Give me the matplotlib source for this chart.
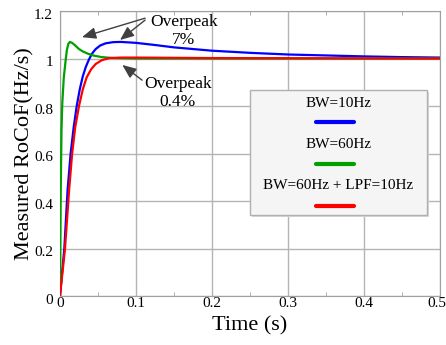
import matplotlib.pyplot as plt
import matplotlib.transforms as mtransforms
from matplotlib.patches import FancyBboxPatch
from matplotlib.lines import Line2D

plt.rcParams["font.family"] = ["Liberation Serif", "DejaVu Serif"]

# values
t_bw10 = [0, 0.0057, 0.010, 0.014, 0.018, 0.022, 0.026, 0.030, 0.034, 0.038,
          0.042, 0.047, 0.053, 0.060, 0.070, 0.080, 0.100, 0.125, 0.150,
          0.200, 0.250, 0.300, 0.350, 0.400, 0.450, 0.500]
y_bw10 = [0, 0.20, 0.446, 0.60, 0.71, 0.80, 0.87, 0.925, 0.965, 0.995,
          1.02, 1.04, 1.055, 1.064, 1.069, 1.07, 1.066, 1.057, 1.047,
          1.033, 1.024, 1.017, 1.013, 1.009, 1.006, 1.004]

t_bw60 = [0, 0.001, 0.002, 0.003, 0.005, 0.0075, 0.009, 0.011, 0.013, 0.016,
          0.020, 0.025, 0.030, 0.037, 0.045, 0.055, 0.070, 0.100, 0.500]
y_bw60 = [0, 0.45, 0.70, 0.81, 0.92, 0.994, 1.035, 1.062, 1.07, 1.066,
          1.055, 1.04, 1.03, 1.02, 1.012, 1.006, 1.002, 1.0, 1.0]

t_lpf = [0, 0.0066, 0.012, 0.016, 0.020, 0.025, 0.030, 0.035, 0.041, 0.047,
         0.055, 0.065, 0.080, 0.100, 0.200, 0.500]
y_lpf = [0, 0.20, 0.446, 0.60, 0.71, 0.80, 0.87, 0.92, 0.955, 0.977,
         0.993, 1.002, 1.004, 1.004, 1.002, 1.0]

labels = ["BW=10Hz", "BW=60Hz", "BW=60Hz + LPF=10Hz"]
colors = ["#0000ff", "#00a000", "#ff0000"]

fig = plt.figure(figsize=(4.46, 3.45), dpi=100)
ax = fig.add_axes([0.1345, 0.142, 0.852, 0.826])

ax.plot(t_bw10, y_bw10, color=colors[0], lw=1.6, zorder=3)
ax.plot(t_bw60, y_bw60, color=colors[1], lw=1.6, zorder=3)
ax.plot(t_lpf, y_lpf, color=colors[2], lw=1.6, zorder=4)

ax.set_xlim(0, 0.5)
ax.set_ylim(0, 1.2)
ax.set_xticks([0, 0.1, 0.2, 0.3, 0.4, 0.5])
ax.set_xticklabels(["0", "0.1", "0.2", "0.3", "0.4", "0.5"])
ax.set_yticks([0, 0.2, 0.4, 0.6, 0.8, 1.0, 1.2])
ax.set_yticklabels(["0", "0.2", "0.4", "0.6", "0.8", "1", "1.2"])
ax.set_xticks([0.05, 0.15, 0.25, 0.35, 0.45], minor=True)
ax.tick_params(which="both", direction="in", top=True, right=True,
               color="#a0a0a0", labelsize=11)
ax.tick_params(which="major", length=0)
ax.tick_params(which="minor", length=3)
ax.tick_params(axis="y", pad=5)
ax.tick_params(axis="x", pad=1)
shift_down = mtransforms.ScaledTranslation(0, -2 / 72, fig.dpi_scale_trans)
for lab in ax.get_yticklabels():
    lab.set_transform(lab.get_transform() + shift_down)
last = ax.get_xticklabels()[-1]
last.set_transform(last.get_transform()
                   + mtransforms.ScaledTranslation(-2.5 / 72, 0, fig.dpi_scale_trans))
ax.grid(True, color="#b4b4b4", lw=1)
for s in ax.spines.values():
    s.set_color("#a0a0a0")

ax.set_xlabel("Time (s)", fontsize=16, labelpad=4)
ax.set_ylabel("Measured RoCoF(Hz/s)", fontsize=16, labelpad=0)

arrow = dict(arrowstyle="-|>,head_length=0.6,head_width=0.25", color="#404040",
             lw=1, mutation_scale=14, shrinkA=0, shrinkB=0)
ax.text(0.163, 1.116, "Overpeak\n7%", ha="center", va="center",
        fontsize=12.5, linespacing=1.2, zorder=5)
ax.annotate("", xy=(0.029, 1.09), xytext=(0.112, 1.17), arrowprops=arrow)
ax.annotate("", xy=(0.079, 1.078), xytext=(0.112, 1.162), arrowprops=arrow)
ax.text(0.155, 0.855, "Overpeak\n0.4%", ha="center", va="center",
        fontsize=12.5, linespacing=1.1, zorder=5)
ax.annotate("", xy=(0.082, 0.973), xytext=(0.108, 0.909), arrowprops=arrow)

# legend box with handles under the labels
shadow = FancyBboxPatch((0.505, 0.278), 0.466, 0.439, boxstyle="square,pad=0",
                        transform=ax.transAxes, fc="#d8d8d8", ec="none", zorder=6)
box = FancyBboxPatch((0.5, 0.284), 0.466, 0.439, boxstyle="square,pad=0",
                     transform=ax.transAxes, fc="#f5f5f5", ec="#b0b0b0",
                     lw=1, zorder=7)
ax.add_patch(shadow)
ax.add_patch(box)
text_y = [0.677, 0.530, 0.389]
line_y = [0.611, 0.463, 0.316]
for lab, c, ty, ly in zip(labels, colors, text_y, line_y):
    ax.text(0.732, ty, lab, transform=ax.transAxes, ha="center", va="center",
            fontsize=11, zorder=8)
    ax.add_line(Line2D([0.674, 0.774], [ly, ly], transform=ax.transAxes,
                       color=c, lw=3, solid_capstyle="round", zorder=8))

fig.savefig("out.png", dpi=100)
plt.close(fig)
